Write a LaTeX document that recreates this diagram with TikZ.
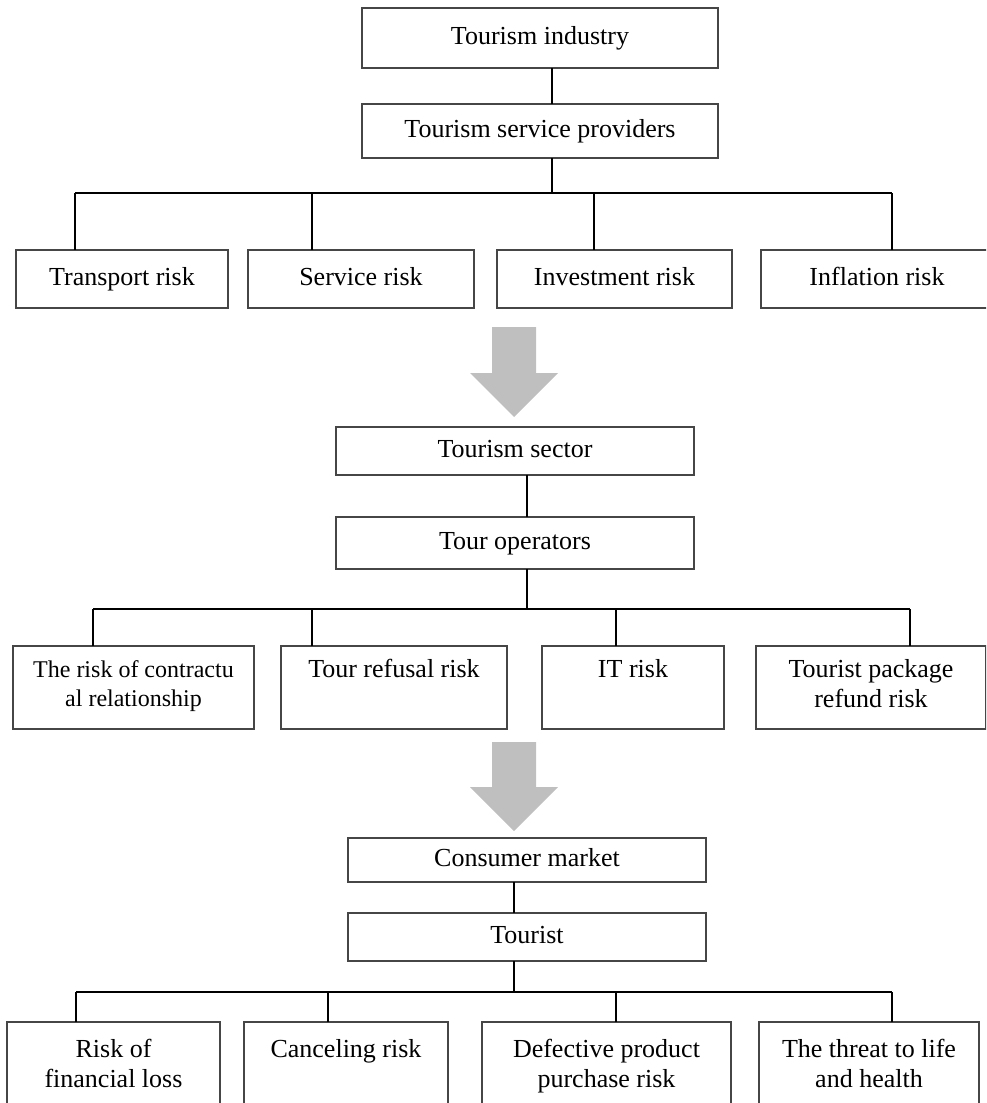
\documentclass[tikz,border=0pt]{standalone}
\usepackage{fontspec}
\setmainfont{Liberation Serif}
\newdimen\pxu \pxu=0.5pt
\definecolor{arrowgray}{RGB}{191,191,191}
\definecolor{boxline}{RGB}{70,70,70}
\tikzset{
  box/.style={draw=boxline, line width=0.65pt, inner sep=0pt, outer sep=0pt, anchor=north west},
  bus/.style={line width=1pt},
  link/.style={line width=0.9pt},
  blockarrow/.style={fill=arrowgray, draw=none},
}
% name, x, y, w, h, text (vertically centred)
\newcommand\cbox[6]{%
  \node[box] (#1) at (#2,#3) {\parbox[c][#5\pxu][c]{#4\pxu}{\centering\fontsize{13}{15}\selectfont\strut #6\strut}};}
% name, x, y, w, h, first-baseline offset, text (top aligned)
\newcommand\tbox[7]{%
  \node[box] (#1) at (#2,#3) {\parbox[c][#5\pxu][t]{#4\pxu}{\centering\fontsize{13}{15}\selectfont\rule{0pt}{#6\pxu}#7}};}
\begin{document}
\begin{tikzpicture}[x=0.5pt,y=-0.5pt]
\useasboundingbox (0,0) rectangle (986,1103);
\clip (0,0) rectangle (986,1103);

% ---------- level 1 ----------
\cbox{A}{362}{8}{356}{60}{Tourism industry}
\cbox{B}{362}{104}{356}{54}{Tourism service providers}
\coordinate (j1) at (552,193);
\coordinate (b1a) at (75,193);
\coordinate (b1b) at (312,193);
\coordinate (b1c) at (594,193);
\coordinate (b1d) at (892,193);
\cbox{r11}{16}{250}{212}{58}{Transport risk}
\cbox{r12}{248}{250}{226}{58}{Service risk}
\cbox{r13}{497}{250}{235}{58}{Investment risk}
\cbox{r14}{761}{250}{232}{58}{Inflation risk}
\draw[link] (A.south -| j1) -- (B.north -| j1);
\draw[link] (B.south -| j1) -- (j1);
\draw[bus] (b1a) -- (b1d);
\draw[link] (b1a) -- (b1a |- r11.north);
\draw[link] (b1b) -- (b1b |- r12.north);
\draw[link] (b1c) -- (b1c |- r13.north);
\draw[link] (b1d) -- (b1d |- r14.north);

% ---------- arrow 1 ----------
\fill[blockarrow] (492,327) -- (536,327) -- (536,373) -- (558,373) -- (514,417) -- (470,373) -- (492,373) -- cycle;

% ---------- level 2 ----------
\cbox{C}{336}{427}{358}{48}{Tourism sector}
\cbox{D}{336}{517}{358}{52}{Tour operators}
\coordinate (j2) at (527,609);
\coordinate (b2a) at (93,609);
\coordinate (b2b) at (312,609);
\coordinate (b2c) at (616,609);
\coordinate (b2d) at (910,609);
\tbox{r21}{13}{646}{241}{83}{31}{\fontsize{12}{14.5}\selectfont The risk of contractu\\al relationship}
\tbox{r22}{281}{646}{226}{83}{31}{Tour refusal risk}
\tbox{r23}{542}{646}{182}{83}{31}{IT risk}
\tbox{r24}{756}{646}{230}{83}{31}{Tourist package\\refund risk}
\draw[link] (C.south -| j2) -- (D.north -| j2);
\draw[link] (D.south -| j2) -- (j2);
\draw[bus] (b2a) -- (b2d);
\draw[link] (b2a) -- (b2a |- r21.north);
\draw[link] (b2b) -- (b2b |- r22.north);
\draw[link] (b2c) -- (b2c |- r23.north);
\draw[link] (b2d) -- (b2d |- r24.north);

% ---------- arrow 2 ----------
\fill[blockarrow] (492,742) -- (536,742) -- (536,787) -- (558,787) -- (514,831) -- (470,787) -- (492,787) -- cycle;

% ---------- level 3 ----------
\cbox{E}{348}{838}{358}{44}{Consumer market}
\cbox{F}{348}{913}{358}{48}{Tourist}
\coordinate (j3) at (514,992);
\coordinate (b3a) at (76,992);
\coordinate (b3b) at (328,992);
\coordinate (b3c) at (616,992);
\coordinate (b3d) at (892,992);
\tbox{r31}{7}{1022}{213}{100}{35}{Risk of\\financial loss}
\tbox{r32}{244}{1022}{204}{100}{35}{Canceling risk}
\tbox{r33}{482}{1022}{249}{100}{35}{Defective product\\purchase risk}
\tbox{r34}{759}{1022}{220}{100}{35}{The threat to life\\and health}
\draw[link] (E.south -| j3) -- (F.north -| j3);
\draw[link] (F.south -| j3) -- (j3);
\draw[bus] (b3a) -- (b3d);
\draw[link] (b3a) -- (b3a |- r31.north);
\draw[link] (b3b) -- (b3b |- r32.north);
\draw[link] (b3c) -- (b3c |- r33.north);
\draw[link] (b3d) -- (b3d |- r34.north);
\end{tikzpicture}
\end{document}
